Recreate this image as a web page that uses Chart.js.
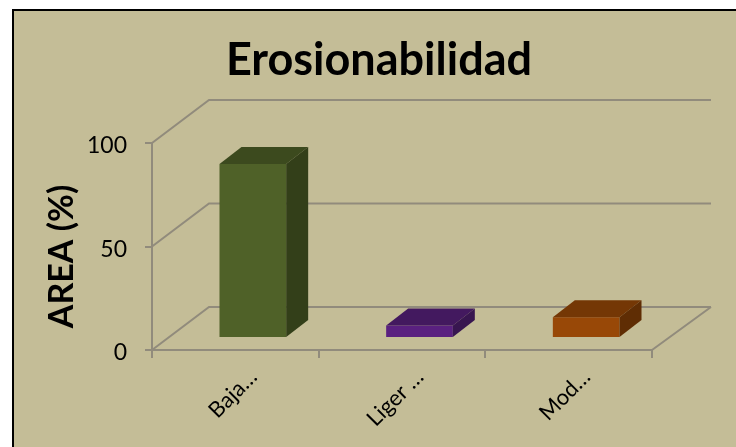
<!DOCTYPE html>
<html><head><meta charset="utf-8">
<style>html,body{margin:0;padding:0;background:#fff}canvas{display:block}</style>
<script src="https://cdn.jsdelivr.net/npm/chart.js@4"></script></head>
<body><canvas id="c" width="736" height="447"></canvas>
<script>
const categories = ['Baja…', 'Liger …', 'Mod…'];
const areaValues = [84, 6, 10];
const yTicks = [0, 50, 100];
const frontColors = ['#4f6128', '#5a2080', '#984807'];
const topColors = ['#3c4a1e', '#43195f', '#743705'];
const sideColors = ['#333f19', '#381650', '#5f2d04'];
const gridColor = '#918b7c';
const depth = {x: 57, y: -43};
const barShift = {x: 17.5, y: -12};
const barDepth = {x: 22, y: -17};

const backdrop = {
  id: 'backdrop',
  beforeDraw(chart) {
    const {ctx, width, height} = chart;
    ctx.save();
    ctx.fillStyle = '#ffffff';
    ctx.fillRect(0, 0, width, height);
    ctx.fillStyle = '#c4bd97';
    ctx.fillRect(12, 9, width - 12, height - 9);
    ctx.fillStyle = '#000';
    ctx.fillRect(12, 9, width - 12, 2);
    ctx.fillRect(12, 9, 2, height - 9);
    ctx.restore();
    const y = chart.scales.y;
    if (!y._titleShifted) {
      y._titleShifted = true;
      const draw = y.drawTitle.bind(y);
      y.drawTitle = function () {
        y.ctx.save();
        y.ctx.translate(2, 10);
        draw();
        y.ctx.restore();
      };
    }
  },
  afterLayout(chart) {
    chart.titleBlock.left += 33;
    chart.titleBlock.right += 33;
  }
};
const wall = {
  id: 'wall',
  beforeDatasetsDraw(chart) {
    const {ctx, scales: {x, y}} = chart;
    ctx.save();
    ctx.strokeStyle = gridColor;
    ctx.lineWidth = 2;
    ctx.beginPath();
    yTicks.forEach(v => {
      const py = y.getPixelForValue(v);
      ctx.moveTo(x.left, py);
      ctx.lineTo(x.left + depth.x, py + depth.y);
      ctx.lineTo(x.right + depth.x + 2, py + depth.y);
    });
    const py0 = y.getPixelForValue(0);
    ctx.moveTo(x.right, py0);
    ctx.lineTo(x.right + depth.x + 2, py0 + depth.y);
    ctx.stroke();
    ctx.restore();
    ctx.save();
    ctx.translate(barShift.x, barShift.y);
  },
  afterDatasetsDraw(chart) {
    const ctx = chart.ctx;
    const meta = chart.getDatasetMeta(0);
    meta.data.forEach((bar, i) => {
      const l = bar.x - bar.width / 2, r = bar.x + bar.width / 2, t = bar.y, b = bar.base;
      ctx.fillStyle = topColors[i];
      ctx.beginPath();
      ctx.moveTo(l, t); ctx.lineTo(l + barDepth.x, t + barDepth.y);
      ctx.lineTo(r + barDepth.x, t + barDepth.y); ctx.lineTo(r, t);
      ctx.closePath(); ctx.fill();
      ctx.fillStyle = sideColors[i];
      ctx.beginPath();
      ctx.moveTo(r, t); ctx.lineTo(r + barDepth.x, t + barDepth.y);
      ctx.lineTo(r + barDepth.x, b + barDepth.y); ctx.lineTo(r, b);
      ctx.closePath(); ctx.fill();
    });
    ctx.restore();
  }
};

new Chart(document.getElementById('c'), {
  type: 'bar',
  data: {labels: categories, datasets: [{label: 'AREA (%)', data: areaValues, backgroundColor: frontColors, barPercentage: 0.4, categoryPercentage: 1}]},
  plugins: [backdrop, wall],
  options: {
    responsive: false, animation: false,
    layout: {padding: {top: 33, left: 40, right: 84, bottom: 0}},
    plugins: {
      legend: {display: false}, tooltip: {enabled: false},
      title: {display: true, text: 'Erosionabilidad', color: '#000', font: {family: 'Lato', size: 45, weight: 'bold'}, padding: {top: 0, bottom: 56}}
    },
    scales: {
      x: {
        afterFit(s) { s.height = 97; },
        grid: {drawOnChartArea: false, color: gridColor, tickLength: 8, lineWidth: 2},
        border: {color: gridColor, width: 2},
        ticks: {color: '#000', font: {family: 'Lato', size: 22}, maxRotation: 45, minRotation: 45, padding: 6, labelOffset: 18}
      },
      y: {
        min: 0, max: 100,
        afterFit(s) { s.width = 112; },
        grid: {drawOnChartArea: false, color: gridColor, tickLength: 7, lineWidth: 2},
        border: {color: gridColor, width: 2},
        ticks: {stepSize: 50, color: '#000', font: {family: 'Lato', size: 23}, padding: 18, labelOffset: 3},
        title: {display: true, text: 'AREA (%)', color: '#000', font: {family: 'Lato', size: 34, weight: 'bold'}, padding: 0}
      }
    }
  }
});
</script></body></html>
